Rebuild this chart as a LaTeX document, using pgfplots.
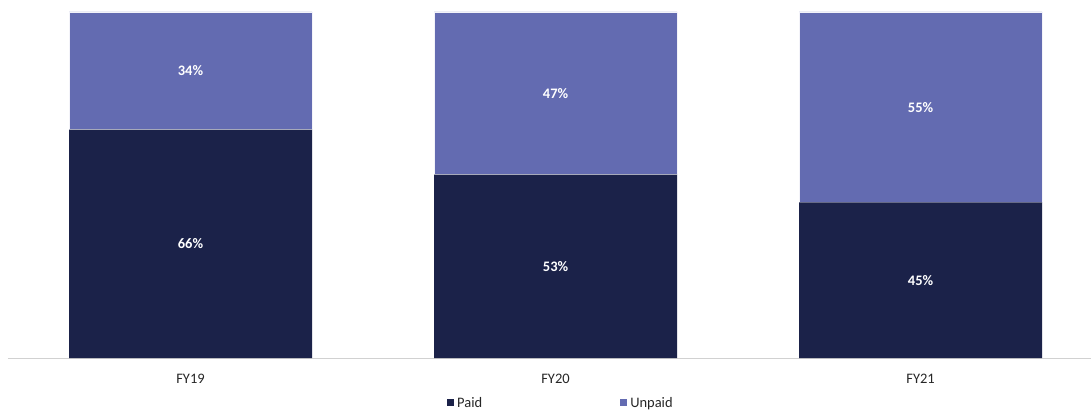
\documentclass[border=0pt]{standalone}
\usepackage{fontspec}
\setmainfont{Carlito}
\usepackage{pgfplots}
\pgfplotsset{compat=1.18}
\definecolor{paid}{HTML}{1B2249}
\definecolor{unpaid}{HTML}{636BB1}
\begin{document}
\begin{tikzpicture}
\useasboundingbox (-8pt,-52pt) rectangle (1083pt,358pt);
\begin{axis}[
  at={(0pt,0pt)}, anchor=south west,
  scale only axis, width=1083pt, height=346pt,
  ybar stacked, bar width=243pt,
  xmin=-0.5, xmax=2.467, ymin=0, ymax=100,
  axis x line*=bottom, hide y axis,
  x axis line style={draw=black!18, line width=0.8pt},
  xtick={0,1,2}, xticklabels={FY19,FY20,FY21},
  major tick length=0pt,
  font=\fontsize{14.5}{16}\selectfont,
  xticklabel style={anchor=base, yshift=-25pt, text=black!85},
  /pgf/number format/assume math mode=true,
  point meta=rawy,
  nodes near coords={\pgfmathprintnumber{\pgfplotspointmeta}\%},
  every node near coord/.append style={font=\fontsize{14.5}{16}\selectfont\bfseries, text=white, anchor=center},
  legend columns=2,
  legend style={at={(0.511,-0.130)}, anchor=center, draw=none, fill=none,
    /tikz/every even column/.append style={column sep=134pt}, text=black!85,
    nodes={inner xsep=3.5pt}},
  legend image code/.code={\fill[#1, draw=none] (0pt,-3.5pt) rectangle (7pt,3.5pt);},
  clip=false,
]
\addplot[fill=paid, draw=none] coordinates {(0,66) (1,53) (2,45)};
\addplot[fill=unpaid, draw=white!92!unpaid, line width=0.7pt] coordinates {(0,34) (1,47) (2,55)};
\legend{Paid, Unpaid}
\end{axis}
\end{tikzpicture}
\end{document}
